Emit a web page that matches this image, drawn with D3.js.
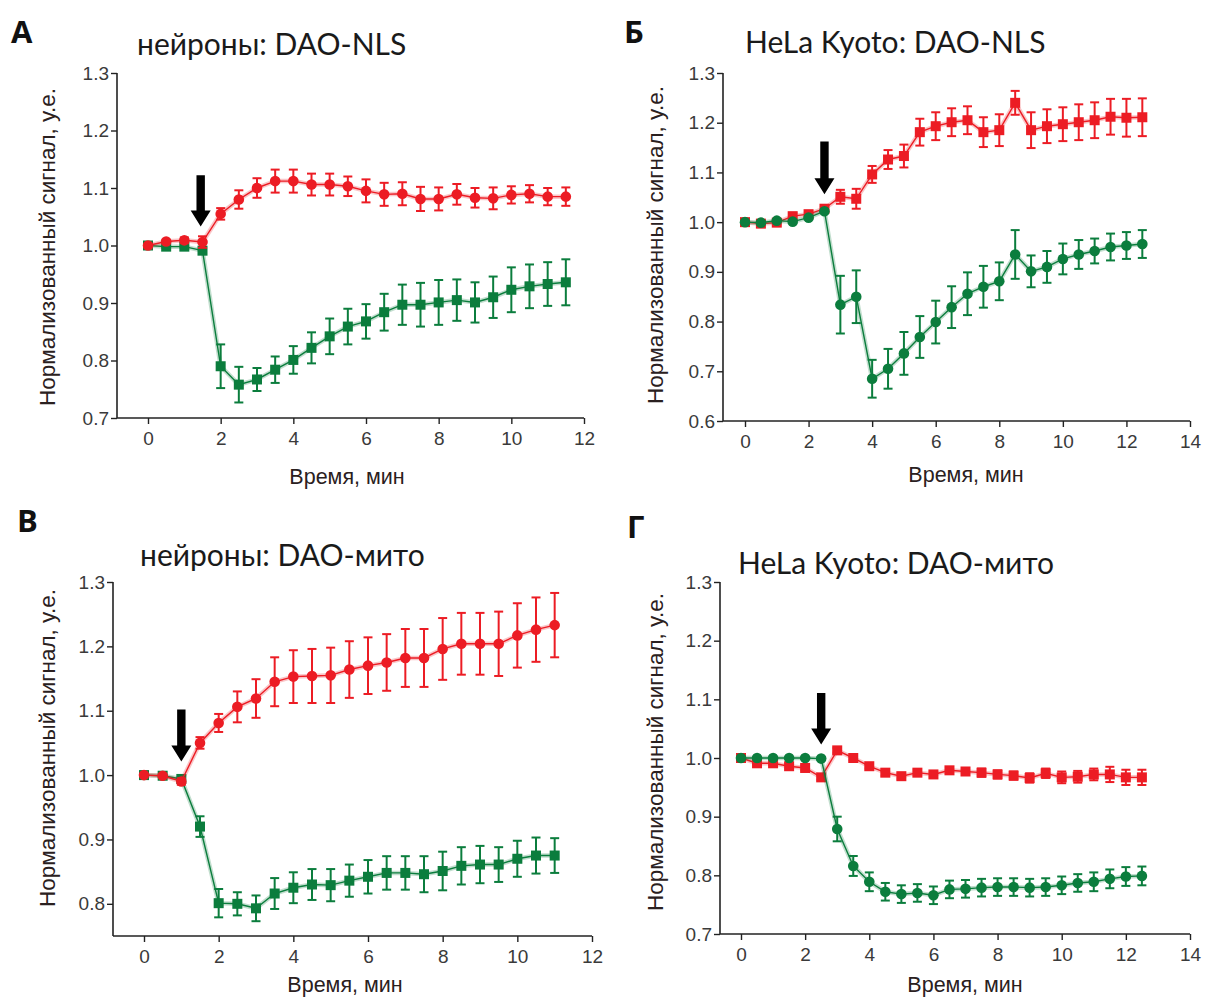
<!DOCTYPE html>
<html><head><meta charset="utf-8">
<script src="https://cdn.jsdelivr.net/npm/d3@7"></script>
<style>body{margin:0;background:#fff} svg{display:block}</style>
</head><body><svg id="c" width="1205" height="999"></svg>
<script>
// ---------- DATA ----------
const timeA = [0,0.5,1,1.5,2,2.5,3,3.5,4,4.5,5,5.5,6,6.5,7,7.5,8,8.5,9,9.5,10,10.5,11,11.5];
const redA = [1.000,1.007,1.009,1.006,1.055,1.080,1.100,1.112,1.112,1.106,1.106,1.103,1.095,1.089,1.090,1.081,1.081,1.089,1.083,1.082,1.088,1.090,1.085,1.085];
const redAerr = [0,0.003,0.005,0.010,0.010,0.016,0.017,0.020,0.020,0.019,0.019,0.017,0.020,0.020,0.020,0.021,0.020,0.018,0.017,0.019,0.015,0.015,0.015,0.016];
const greenA = [1.000,0.998,0.998,0.991,0.790,0.758,0.767,0.784,0.801,0.822,0.842,0.859,0.868,0.884,0.897,0.897,0.901,0.905,0.901,0.910,0.923,0.929,0.933,0.936];
const greenAerr = [0,0.002,0.002,0.004,0.038,0.031,0.020,0.023,0.024,0.027,0.031,0.031,0.030,0.032,0.035,0.038,0.039,0.036,0.035,0.036,0.039,0.038,0.038,0.040];

const timeB = [0,0.5,1,1.5,2,2.5,3,3.5,4,4.5,5,5.5,6,6.5,7,7.5,8,8.5,9,9.5,10,10.5,11,11.5,12,12.5];
const redB = [1.000,0.997,0.999,1.012,1.016,1.027,1.051,1.047,1.096,1.126,1.133,1.181,1.193,1.201,1.205,1.181,1.185,1.240,1.185,1.193,1.197,1.201,1.205,1.212,1.210,1.211];
const redBerr = [0,0.004,0.003,0.006,0.005,0.004,0.014,0.020,0.017,0.019,0.023,0.027,0.028,0.028,0.028,0.030,0.032,0.024,0.036,0.034,0.034,0.036,0.036,0.036,0.038,0.038];
const greenB = [1.000,0.999,1.003,1.001,1.009,1.022,0.834,0.850,0.685,0.705,0.736,0.769,0.799,0.829,0.856,0.870,0.881,0.935,0.901,0.910,0.926,0.935,0.942,0.950,0.953,0.956];
const greenBerr = [0,0.002,0.002,0.003,0.003,0.004,0.058,0.053,0.038,0.040,0.043,0.042,0.043,0.042,0.043,0.042,0.038,0.049,0.032,0.032,0.031,0.029,0.025,0.027,0.027,0.028];

const timeC = [0,0.5,1,1.5,2,2.5,3,3.5,4,4.5,5,5.5,6,6.5,7,7.5,8,8.5,9,9.5,10,10.5,11];
const redC = [1.000,0.999,0.990,1.050,1.081,1.106,1.119,1.145,1.153,1.154,1.155,1.164,1.170,1.175,1.182,1.182,1.196,1.204,1.204,1.204,1.217,1.226,1.233];
const redCerr = [0,0.001,0.005,0.009,0.014,0.024,0.030,0.038,0.041,0.042,0.043,0.044,0.044,0.044,0.045,0.045,0.048,0.048,0.048,0.050,0.050,0.050,0.050];
const greenC = [1.000,0.999,0.994,0.920,0.801,0.800,0.793,0.816,0.825,0.830,0.829,0.836,0.842,0.848,0.848,0.846,0.851,0.859,0.861,0.861,0.870,0.875,0.875];
const greenCerr = [0,0.001,0.003,0.016,0.022,0.018,0.020,0.024,0.024,0.024,0.025,0.025,0.026,0.026,0.026,0.028,0.030,0.029,0.029,0.027,0.028,0.028,0.027];

const timeD = [0,0.5,1,1.5,2,2.5,3,3.5,4,4.5,5,5.5,6,6.5,7,7.5,8,8.5,9,9.5,10,10.5,11,11.5,12,12.5];
const redD = [1.000,0.991,0.991,0.986,0.983,0.967,1.013,1.000,0.986,0.975,0.969,0.975,0.972,0.979,0.977,0.975,0.972,0.970,0.966,0.974,0.967,0.968,0.972,0.972,0.967,0.967];
const redDerr = [0,0.003,0.003,0.004,0.004,0.004,0.004,0.004,0.004,0.005,0.005,0.005,0.005,0.005,0.006,0.007,0.007,0.007,0.008,0.008,0.010,0.010,0.010,0.013,0.013,0.013];
const greenD = [1.000,1.000,1.000,1.000,1.000,0.999,0.879,0.816,0.789,0.772,0.768,0.770,0.766,0.776,0.777,0.779,0.780,0.780,0.779,0.780,0.783,0.787,0.789,0.794,0.798,0.799];
const greenDerr = [0,0.001,0.001,0.001,0.001,0.002,0.021,0.017,0.016,0.015,0.015,0.015,0.015,0.015,0.015,0.015,0.015,0.015,0.015,0.015,0.015,0.015,0.016,0.016,0.016,0.016];

const yTicksA = [0.7,0.8,0.9,1.0,1.1,1.2,1.3];
const yTicksB = [0.6,0.7,0.8,0.9,1.0,1.1,1.2,1.3];
const yTicksC = [0.8,0.9,1.0,1.1,1.2,1.3];
const yTicksD = [0.7,0.8,0.9,1.0,1.1,1.2,1.3];
const xTicks12 = [0,2,4,6,8,10,12];
const xTicks14 = [0,2,4,6,8,10,12,14];

const panelLetters = ["А","Б","В","Г"];
const panelTitles = ["нейроны: DAO-NLS","HeLa Kyoto: DAO-NLS","нейроны: DAO-мито","HeLa Kyoto: DAO-мито"];
const yLabel = "Нормализованный сигнал, у.е.";
const xLabel = "Время, мин";

// stimulus arrows: time, top value, tip value
const arrowTime = [1.45, 2.5, 1.0, 2.5];
const arrowTop = [1.122, 1.162, 1.102, 1.111];
const arrowTip = [1.033, 1.056, 1.021, 1.023];

// ---------- LAYOUT ----------
const RED = "#ec1c24", GREEN = "#0b7d3d";
const panels = [
  {time: timeA, red: redA, redErr: redAerr, green: greenA, greenErr: greenAerr, redShape: "circle", greenShape: "square",
   yDom: [0.7,1.3], yRange: [418,73], yTicks: yTicksA, xDom: [0,12], xRange: [148,584], xTicks: xTicks12, axisX0: 117,
   letter: [11,43], title: [137,55], yLab: [55,247], xLab: [347,484]},
  {time: timeB, red: redB, redErr: redBerr, green: greenB, greenErr: greenBerr, redShape: "square", greenShape: "circle",
   yDom: [0.6,1.3], yRange: [421,73], yTicks: yTicksB, xDom: [0,14], xRange: [745,1190], xTicks: xTicks14, axisX0: 723,
   letter: [624,43], title: [745,53], yLab: [663,245], xLab: [966,482]},
  {time: timeC, red: redC, redErr: redCerr, green: greenC, greenErr: greenCerr, redShape: "circle", greenShape: "square",
   yDom: [0.75,1.3], yRange: [936,582], yTicks: yTicksC, xDom: [0,12], xRange: [144,592], xTicks: xTicks12, axisX0: 113,
   letter: [17,532], title: [140,566], yLab: [55,748], xLab: [345,992]},
  {time: timeD, red: redD, redErr: redDerr, green: greenD, greenErr: greenDerr, redShape: "square", greenShape: "circle",
   yDom: [0.7,1.3], yRange: [934,582], yTicks: yTicksD, xDom: [0,14], xRange: [741,1190], xTicks: xTicks14, axisX0: 720,
   letter: [627,538], title: [738,574], yLab: [663,752], xLab: [965,992]}
];

const svg = d3.select("#c");

panels.forEach((p, i) => {
  const g = svg.append("g");
  const x = d3.scaleLinear().domain(p.xDom).range(p.xRange);
  const y = d3.scaleLinear().domain(p.yDom).range(p.yRange);
  const yBottom = p.yRange[0];

  // y axis
  const yAx = g.append("g").attr("transform", `translate(${p.axisX0},0)`)
    .call(d3.axisLeft(y).tickValues(p.yTicks).tickFormat(d3.format(".1f")).tickSize(6).tickSizeOuter(0));
  yAx.select(".domain").remove();
  g.append("line").attr("x1", p.axisX0).attr("x2", p.axisX0).attr("y1", y(1.3)).attr("y2", yBottom)
    .attr("stroke", "#222").attr("stroke-width", 1.6);

  // x axis
  const xAx = g.append("g").attr("transform", `translate(0,${yBottom})`)
    .call(d3.axisBottom(x).tickValues(p.xTicks).tickSize(6).tickSizeOuter(0));
  xAx.select(".domain").remove();
  g.append("line").attr("x1", p.axisX0).attr("x2", x(p.xDom[1])).attr("y1", yBottom).attr("y2", yBottom)
    .attr("stroke", "#222").attr("stroke-width", 1.6);

  [yAx, xAx].forEach(ax => {
    ax.selectAll(".tick line").attr("stroke", "#222").attr("stroke-width", 1.4);
    ax.selectAll(".tick text").attr("fill", "#3a3a3a").attr("font-family", "'Liberation Sans', Arial, sans-serif").attr("font-size", 19);
  });
  yAx.selectAll(".tick text").attr("x", -8);
  xAx.selectAll(".tick text").attr("y", 14);

  // labels
  g.append("text").attr("x", p.letter[0]).attr("y", p.letter[1]).text(panelLetters[i])
    .style("font-family", "'Open Sans', sans-serif").style("font-weight", 700).style("font-size", "31px").attr("fill", "#111");
  g.append("text").attr("x", p.title[0]).attr("y", p.title[1]).text(panelTitles[i])
    .style("font-family", "Lato, sans-serif").style("font-size", "30px").attr("fill", "#1a1a1a");
  g.append("text").attr("transform", `translate(${p.yLab[0]},${p.yLab[1]}) rotate(-90)`).attr("text-anchor", "middle")
    .text(yLabel).style("font-family", "'Liberation Sans', Arial, sans-serif").style("font-size", "22.5px").attr("fill", "#2a2020");
  g.append("text").attr("x", p.xLab[0]).attr("y", p.xLab[1]).attr("text-anchor", "middle")
    .text(xLabel).style("font-family", "'Liberation Sans', Arial, sans-serif").style("font-size", "21.5px").attr("fill", "#2a2020");

  // series
  const series = [
    {vals: p.red, err: p.redErr, color: RED, shape: p.redShape},
    {vals: p.green, err: p.greenErr, color: GREEN, shape: p.greenShape}
  ].sort((a, b) => (a.shape === "circle") - (b.shape === "circle"));

  series.forEach(s => {
    const pts = p.time.map((t, k) => ({t, v: s.vals[k], e: s.err[k]}));
    const line = d3.line().x(d => x(d.t)).y(d => y(d.v));
    const sg = g.append("g");
    sg.append("path").attr("d", line(pts)).attr("fill", "none").attr("stroke", s.color).attr("stroke-opacity", 0.25).attr("stroke-width", 4.5);
    sg.append("path").attr("d", line(pts)).attr("fill", "none").attr("stroke", s.color).attr("stroke-width", 1.4);
    const eb = sg.selectAll(".eb").data(pts.filter(d => d.e > 0)).join("g");
    eb.append("line").attr("x1", d => x(d.t)).attr("x2", d => x(d.t)).attr("y1", d => y(d.v - d.e)).attr("y2", d => y(d.v + d.e))
      .attr("stroke", s.color).attr("stroke-width", 2);
    [1, -1].forEach(sign => {
      eb.append("line").attr("x1", d => x(d.t) - 4.5).attr("x2", d => x(d.t) + 4.5)
        .attr("y1", d => y(d.v + sign * d.e)).attr("y2", d => y(d.v + sign * d.e))
        .attr("stroke", s.color).attr("stroke-width", 2);
    });
    if (s.shape === "circle") {
      sg.selectAll(".m").data(pts).join("circle").attr("cx", d => x(d.t)).attr("cy", d => y(d.v)).attr("r", 5.3).attr("fill", s.color);
    } else {
      sg.selectAll(".m").data(pts).join("rect").attr("x", d => x(d.t) - 5).attr("y", d => y(d.v) - 5)
        .attr("width", 10).attr("height", 10).attr("fill", s.color);
    }
  });

  // stimulus arrow
  const ax = x(arrowTime[i]), yt = y(arrowTop[i]), yp = y(arrowTip[i]);
  const headH = 16, headW = 10, shaftW = 4.2;
  g.append("path").attr("fill", "#000")
    .attr("d", `M${ax - shaftW},${yt} L${ax + shaftW},${yt} L${ax + shaftW},${yp - headH} L${ax + headW},${yp - headH} L${ax},${yp} L${ax - headW},${yp - headH} L${ax - shaftW},${yp - headH} Z`);
});
</script></body></html>
